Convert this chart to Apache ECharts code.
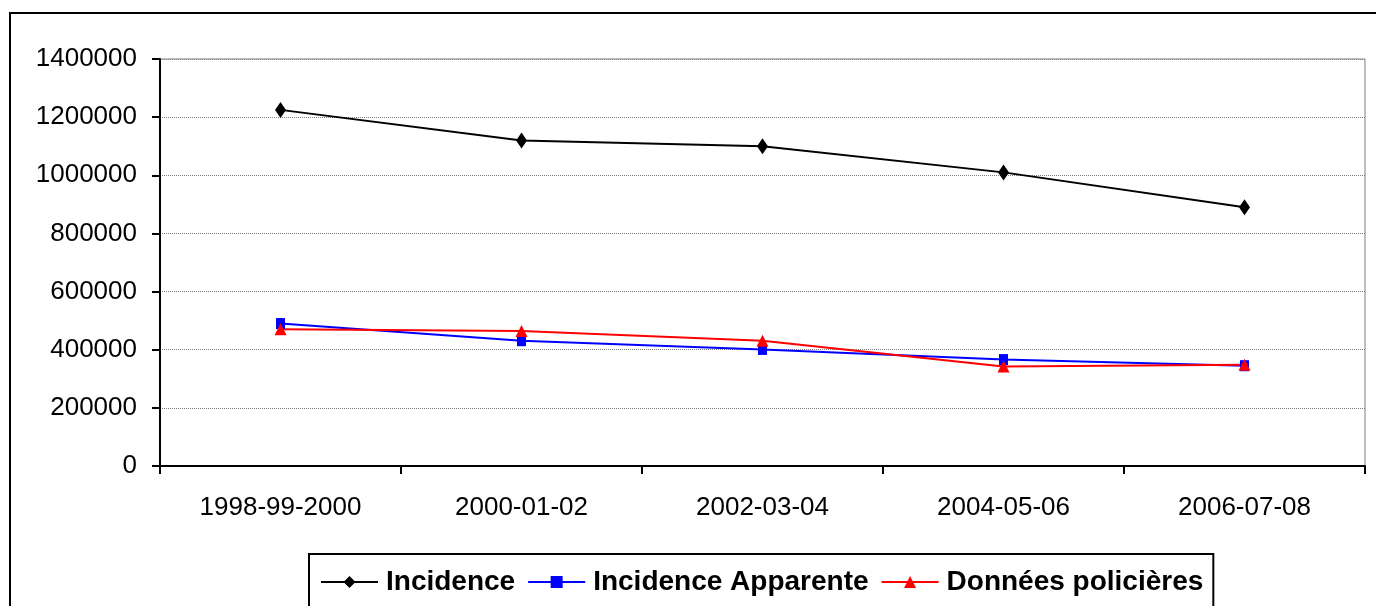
<!DOCTYPE html>
<html>
<head>
<meta charset="utf-8">
<script src="https://cdn.jsdelivr.net/npm/echarts@6/dist/echarts.min.js"></script>
<style>
html,body{margin:0;padding:0;background:#fff;}
#chart{width:1376px;height:606px;}
</style>
</head>
<body>
<div id="chart"></div>
<script>
const categories = ['1998-99-2000', '2000-01-02', '2002-03-04', '2004-05-06', '2006-07-08'];
const incidence = [1225000, 1120000, 1100000, 1010000, 890000];
const incidenceApparente = [490000, 431000, 401000, 366000, 345000];
const donneesPolicieres = [470000, 464000, 431000, 342000, 348000];
const seriesNames = ['Incidence', 'Incidence Apparente', 'Données policières'];

const chart = echarts.init(document.getElementById('chart'), null, {renderer: 'canvas'});
const font = 'Liberation Sans, Arial, sans-serif';
chart.setOption({
  animation: false,
  backgroundColor: '#fff',
  graphic: [{
    type: 'rect',
    shape: {x: 10, y: 13, width: 1400, height: 700},
    style: {fill: 'none', stroke: '#000', lineWidth: 2},
    z: -10
  }],
  grid: {
    left: 160, right: 11, top: 59, bottom: 140,
    show: true, borderColor: '#808080', borderWidth: 1, backgroundColor: 'transparent'
  },
  legend: {
    left: 309, top: 554,
    padding: [14, 10, 20, 11],
    borderColor: '#000', borderWidth: 2, backgroundColor: '#fff',
    itemWidth: 57, itemHeight: 15, itemGap: 12,
    textStyle: {fontFamily: font, fontSize: 28, fontWeight: 'bold', color: '#000', padding: [0, 0, 0, 3]},
    data: seriesNames
  },
  xAxis: {
    type: 'category',
    data: categories,
    boundaryGap: true,
    axisLine: {lineStyle: {color: '#000', width: 2}},
    axisTick: {show: true, length: 8, lineStyle: {color: '#000', width: 2}},
    axisLabel: {fontFamily: font, fontSize: 26, color: '#000', margin: 29},
    splitLine: {show: false}
  },
  yAxis: {
    type: 'value',
    min: 0, max: 1400000, interval: 200000,
    axisLine: {show: true, lineStyle: {color: '#000', width: 2}},
    axisTick: {show: true, length: 8, lineStyle: {color: '#000', width: 2}},
    axisLabel: {fontFamily: font, fontSize: 26, color: '#000', margin: 23, formatter: v => String(v)},
    splitLine: {show: true, lineStyle: {color: '#808080', width: 1, type: [1, 1]}}
  },
  series: [
    {
      name: seriesNames[0], type: 'line', data: incidence,
      symbol: 'diamond', symbolSize: [11, 16],
      lineStyle: {color: '#000', width: 2},
      itemStyle: {color: '#000'}
    },
    {
      name: seriesNames[1], type: 'line', data: incidenceApparente,
      symbol: 'rect', symbolSize: [9, 11],
      lineStyle: {color: '#0000ff', width: 2},
      itemStyle: {color: '#0000ff'}
    },
    {
      name: seriesNames[2], type: 'line', data: donneesPolicieres,
      symbol: 'triangle', symbolSize: [12, 12],
      lineStyle: {color: '#ff0000', width: 2},
      itemStyle: {color: '#ff0000'}
    }
  ]
});
</script>
</body>
</html>
